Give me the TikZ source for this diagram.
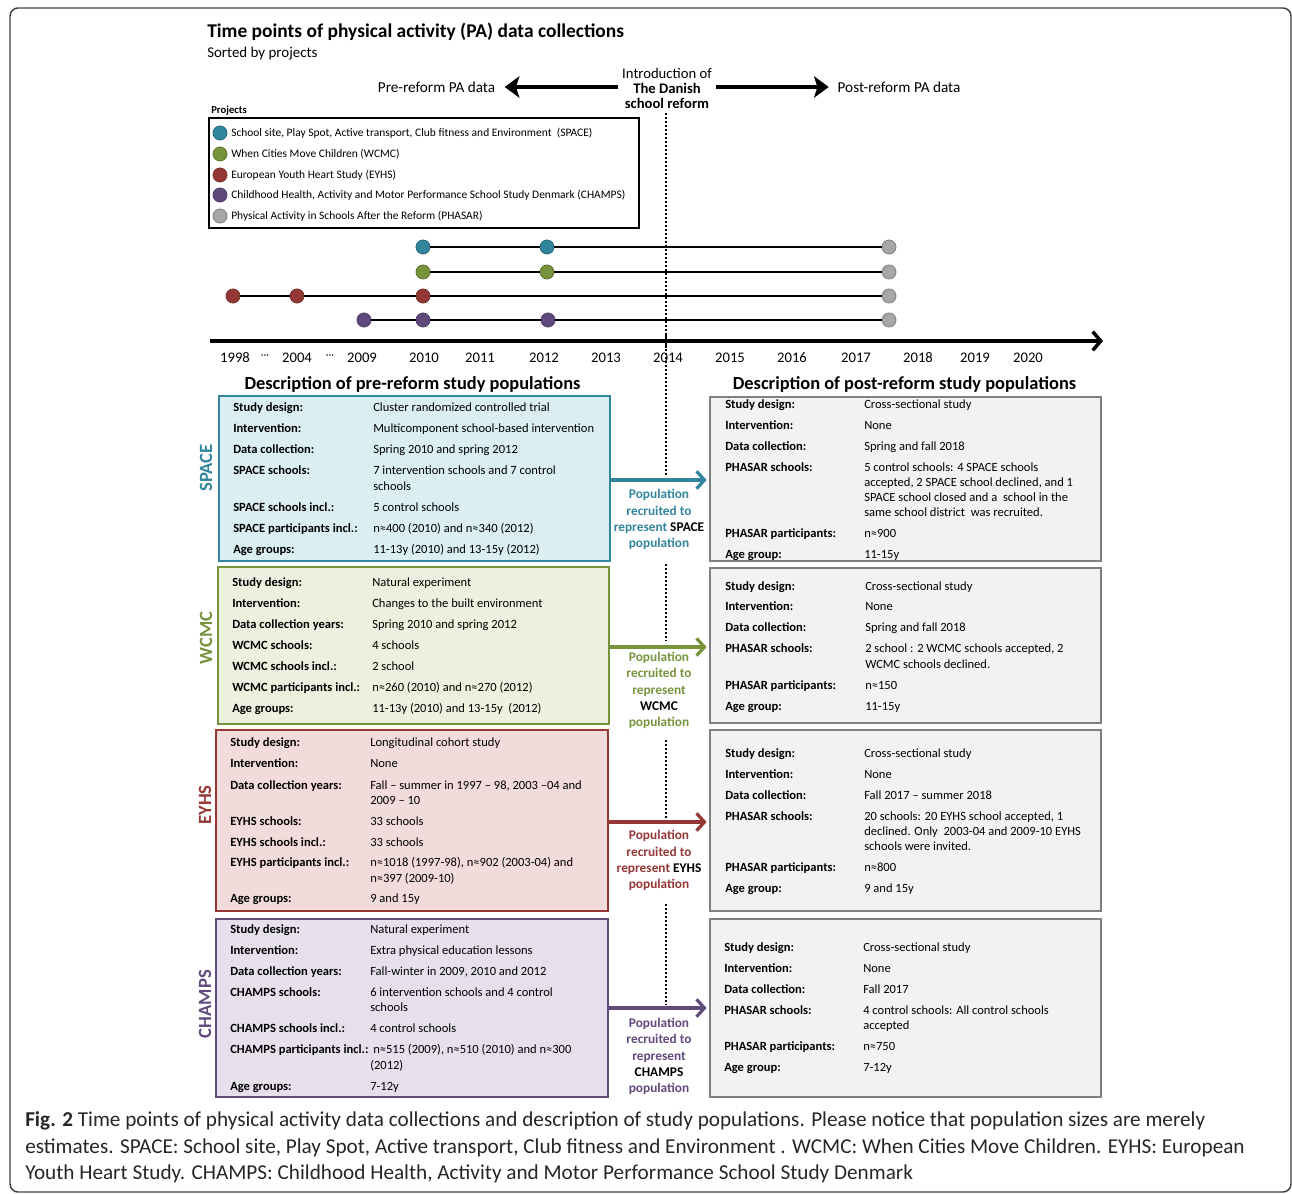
\documentclass[tikz,border=0pt]{standalone}
\usepackage{fontspec}
\setmainfont{Carlito}
\usetikzlibrary{arrows.meta,fit,calc}
\definecolor{cteal}{HTML}{31859C}
\definecolor{cteald}{HTML}{25677A}
\definecolor{ctealf}{HTML}{DAEEF3}
\definecolor{cgreen}{HTML}{77933C}
\definecolor{cgreend}{HTML}{5E7530}
\definecolor{cgreenf}{HTML}{EBF1DE}
\definecolor{cred}{HTML}{953735}
\definecolor{credd}{HTML}{772B2A}
\definecolor{credf}{HTML}{F2DCDB}
\definecolor{cpur}{HTML}{604A7B}
\definecolor{cpurd}{HTML}{4A3960}
\definecolor{cpurf}{HTML}{E5E0EC}
\definecolor{cgrey}{HTML}{A6A6A6}
\definecolor{cgreyd}{HTML}{808080}
\definecolor{cgreyf}{HTML}{F2F2F2}
\newcommand\ent[6]{%
  \node[lab] (#1l) at (#2,#4) {#5};
  \node[val] (#1v) at (#3,#4) {#6};}
\newcommand\cnt[4]{\node[val] (#1) at (#2,#3) {#4};}
\begin{document}
\begin{tikzpicture}[x=0.75pt,y=-0.75pt,
  lab/.style={inner sep=0pt, anchor=mid west, font=\fontsize{9.4}{11}\selectfont\bfseries},
  val/.style={inner sep=0pt, anchor=mid west, font=\fontsize{9.4}{11}\selectfont},
  dot/.style={circle, inner sep=0pt, minimum size=10.5pt, line width=0.6pt},
  tl/.style={line width=0.8pt},
  leg/.style={inner sep=0pt, anchor=mid west, font=\fontsize{8.6}{10}\selectfont},
  yr/.style={inner sep=0pt, font=\fontsize{11}{12}\selectfont},
  hdr/.style={inner sep=0pt, font=\fontsize{13.8}{15}\selectfont\bfseries},
  boxl/.style={inner sep=0pt, line width=1.9pt},
  boxr/.style={inner sep=0pt, line width=2pt, draw=cgreyd, fill=cgreyf},
  vlab/.style={rotate=90, inner sep=0pt, font=\fontsize{14}{14}\selectfont\bfseries},
  pop/.style={align=center, inner sep=0pt, font=\fontsize{10}{12.2}\selectfont\bfseries},
  midarr/.style={line width=2.4pt, shorten >=1.5pt, -{Straight Barb[length=6pt,width=13pt]}},
  bigarr/.style={line width=3.2pt, -{Stealth[length=11pt,width=16pt,inset=2.5pt]}},
  dotl/.style={line width=1.6pt, dash pattern=on 1.6pt off 1.4pt},
  captxt/.style={inner sep=0pt, anchor=mid west, text=black!85, font=\fontsize{15.9}{17}\selectfont}]
\useasboundingbox (0,0) rectangle (1292,1194);
% frame
\draw[line width=1.1pt, black!75, rounded corners=6pt] (10,8) rectangle (1291,1192);

% titles
\node[inner sep=0pt, anchor=mid west, font=\fontsize{14.6}{16}\selectfont\bfseries] (title) at (207,34.5) {Time points of physical activity (PA) data collections};
\node[inner sep=0pt, anchor=mid west, font=\fontsize{11.2}{13}\selectfont] (subt) at (207,54.5) {Sorted by projects};

% reform arrows
\node[inner ysep=4pt, inner xsep=7pt, font=\fontsize{11.4}{13}\selectfont] (pre) at (436.5,87) {Pre-reform PA data};
\node[inner sep=3pt, align=center, font=\fontsize{11}{11.25}\selectfont] (intro) at (667,88) {Introduction of\\\textbf{The Danish}\\\textbf{school reform}};
\node[inner ysep=4pt, inner xsep=6.5pt, font=\fontsize{11.4}{13}\selectfont] (post) at (899,87) {Post-reform PA data};
\draw[bigarr] (intro.west |- pre.center) -- (pre.east);
\draw[bigarr] (intro.east |- post.center) -- (post.west);

% dotted reform line
\coordinate (d0) at (666,113); \coordinate (d1) at (666,476);
\coordinate (d2) at (666,564); \coordinate (d3) at (666,641);
\coordinate (d4) at (666,740); \coordinate (d5) at (666,819);
\coordinate (d6) at (666,904); \coordinate (d7) at (666,1005);
\draw[dotl] (d0) -- (d1);
\draw[dotl] (d2) -- (d3);
\draw[dotl] (d4) -- (d5);
\draw[dotl] (d6) -- (d7);

% legend
\node[inner sep=0pt, anchor=mid west, font=\fontsize{8}{9}\selectfont\bfseries] (projects) at (211,110) {Projects};
\node[fit={(209,118) (639,228)}, inner sep=0pt, draw, line width=1.2pt] (legend) {};
\foreach \yy/\cf/\cd/\tx [count=\k] in {
  133/cteal/cteald/{School site, Play Spot, Active transport, Club fitness and Environment\ \ (SPACE)},
  154/cgreen/cgreend/{When Cities Move Children (WCMC)},
  175/cred/credd/{European Youth Heart Study (EYHS)},
  195/cpur/cpurd/{Childhood Health, Activity and Motor Performance School Study Denmark (CHAMPS)},
  216/cgrey/cgreyd/{Physical Activity in Schools After the Reform (PHASAR)}}{
  \node[dot, fill=\cf, draw=\cd] (ld\k) at (220,\yy) {};
  \node[leg] (lt\k) at (231,\yy) {\tx};
}

% timeline dots
\node[dot, fill=cteal, draw=cteald] (s1) at (423,247) {};
\node[dot, fill=cteal, draw=cteald] (s2) at (547,247) {};
\node[dot, fill=cgrey, draw=cgreyd] (s3) at (889,247) {};
\draw[tl] (s1) -- (s2) -- (s3);
\node[dot, fill=cgreen, draw=cgreend] (w1) at (423,272) {};
\node[dot, fill=cgreen, draw=cgreend] (w2) at (547,272) {};
\node[dot, fill=cgrey, draw=cgreyd] (w3) at (889,272) {};
\draw[tl] (w1) -- (w2) -- (w3);
\node[dot, fill=cred, draw=credd] (e1) at (233,296) {};
\node[dot, fill=cred, draw=credd] (e2) at (297,296) {};
\node[dot, fill=cred, draw=credd] (e3) at (423,296) {};
\node[dot, fill=cgrey, draw=cgreyd] (e4) at (889,296) {};
\draw[tl] (e1) -- (e2) -- (e3) -- (e4);
\node[dot, fill=cpur, draw=cpurd] (c1) at (364,320) {};
\node[dot, fill=cpur, draw=cpurd] (c2) at (423,320) {};
\node[dot, fill=cpur, draw=cpurd] (c3) at (548,320) {};
\node[dot, fill=cgrey, draw=cgreyd] (c4) at (889,320) {};
\draw[tl] (c1) -- (c2) -- (c3) -- (c4);

% axis
\coordinate (ax0) at (210,341); \coordinate (ax1) at (1103,341);
\draw[line width=2.6pt, -{Straight Barb[length=6pt,width=14pt]}] (ax0) -- (ax1);
\coordinate (tk0) at (666,334); \coordinate (tk1) at (666,348);
\draw[line width=2pt] (tk0) -- (tk1);
\foreach \xx/\yt [count=\k] in {235/1998,297/2004,362/2009,424/2010,480/2011,544/2012,606/2013,668/2014,730/2015,792/2016,856/2017,918/2018,975/2019,1028/2020}{
  \node[yr] (y\k) at (\xx,357.5) {\yt};
}
\node[yr, font=\fontsize{8}{9}\selectfont] (dots1) at (265,356.5) {···};
\node[yr, font=\fontsize{8}{9}\selectfont] (dots2) at (330,356.5) {···};

% headers
\node[hdr] (hpre) at (412.5,384.5) {Description of pre-reform study populations};
\node[hdr] (hpost) at (904.5,384.5) {Description of post-reform study populations};

% boxes
\node[fit={(219,396) (610,561)}, boxl, draw=cteal, fill=ctealf] (bs) {};
\node[fit={(218,567) (609,724)}, boxl, draw=cgreen, fill=cgreenf] (bw) {};
\node[fit={(216,730) (608,911)}, boxl, draw=cred, fill=credf] (be) {};
\node[fit={(216,919) (608,1097)}, boxl, draw=cpur, fill=cpurf] (bc) {};
\node[fit={(710,397) (1101,561)}, boxr] (rs) {};
\node[fit={(710,568) (1101,723)}, boxr] (rw) {};
\node[fit={(710,730) (1101,911)}, boxr] (re) {};
\node[fit={(710,919) (1101,1097)}, boxr] (rc) {};

% vertical labels
\node[vlab, text=cteal] (vs) at (206,468) {SPACE};
\node[vlab, text=cgreen] (vw) at (206,638) {WCMC};
\node[vlab, text=cred] (ve) at (205,805) {EYHS};
\node[vlab, text=cpur] (vc) at (205,1004) {CHAMPS};

% connectors
\coordinate (ys) at (0,480); \coordinate (yw) at (0,647);
\coordinate (ye) at (0,822); \coordinate (yc) at (0,1008);
\draw[midarr, cteal] (bs.east |- ys) -- (rs.west |- ys);
\draw[midarr, cgreen] (bw.east |- yw) -- (rw.west |- yw);
\draw[midarr, cred] (be.east |- ye) -- (re.west |- ye);
\draw[midarr, cpur] (bc.east |- yc) -- (rc.west |- yc);
\node[pop, text=cteal] (ps) at (659,519.5) {Population\\recruited to\\represent \textcolor{black}{SPACE}\\population};
\node[pop, text=cgreen] (pw) at (659,690.5) {Population\\recruited to\\represent\\\textcolor{black}{WCMC}\\population};
\node[pop, text=cred] (pe) at (659,860.5) {Population\\recruited to\\represent \textcolor{black}{EYHS}\\population};
\node[pop, text=cpur] (pc) at (659,1056.5) {Population\\recruited to\\represent\\\textcolor{black}{CHAMPS}\\population};

% SPACE left
\ent{sa1}{233}{373}{408}{Study design:}{Cluster randomized controlled trial}
\ent{sa2}{233}{373}{429}{Intervention:}{Multicomponent school-based intervention}
\ent{sa3}{233}{373}{450}{Data collection:}{Spring 2010 and spring 2012}
\ent{sa4}{233}{373}{471}{SPACE schools:}{7 intervention schools and 7 control}
\cnt{sa4b}{373}{487}{schools}
\ent{sa5}{233}{373}{508}{SPACE schools incl.:}{5 control schools}
\ent{sa6}{233}{373}{529}{SPACE participants incl.:}{n≈400 (2010) and n≈340 (2012)}
\ent{sa7}{233}{373}{550}{Age groups:}{11-13y (2010) and 13-15y (2012)}

% WCMC left
\ent{wa1}{232}{372}{583}{Study design:}{Natural experiment}
\ent{wa2}{232}{372}{604}{Intervention:}{Changes to the built environment}
\ent{wa3}{232}{372}{625}{Data collection years:}{Spring 2010 and spring 2012}
\ent{wa4}{232}{372}{646}{WCMC schools:}{4 schools}
\ent{wa5}{232}{372}{667}{WCMC schools incl.:}{2 school}
\ent{wa6}{232}{372}{688}{WCMC participants incl.:}{n≈260 (2010) and n≈270 (2012)}
\ent{wa7}{232}{372}{709}{Age groups:}{11-13y (2010) and 13-15y\ \ (2012)}

% EYHS left
\ent{ea1}{230}{370}{743}{Study design:}{Longitudinal cohort study}
\ent{ea2}{230}{370}{764}{Intervention:}{None}
\ent{ea3}{230}{370}{786}{Data collection years:}{Fall – summer in 1997 – 98, 2003 –04 and}
\cnt{ea3b}{370}{801}{2009 – 10}
\ent{ea4}{230}{370}{822}{EYHS schools:}{33 schools}
\ent{ea5}{230}{370}{843}{EYHS schools incl.:}{33 schools}
\ent{ea6}{230}{370}{863}{EYHS participants incl.:}{n≈1018 (1997-98), n≈902 (2003-04) and}
\cnt{ea6b}{370}{879}{n≈397 (2009-10)}
\ent{ea7}{230}{370}{899}{Age groups:}{9 and 15y}

% CHAMPS left
\ent{ca1}{230}{370}{930}{Study design:}{Natural experiment}
\ent{ca2}{230}{370}{951}{Intervention:}{Extra physical education lessons}
\ent{ca3}{230}{370}{972}{Data collection years:}{Fall-winter in 2009, 2010 and 2012}
\ent{ca4}{230}{370}{993}{CHAMPS schools:}{6 intervention schools and 4 control}
\cnt{ca4b}{370}{1008}{schools}
\ent{ca5}{230}{370}{1029}{CHAMPS schools incl.:}{4 control schools}
\ent{ca6}{230}{373}{1050}{CHAMPS participants incl.:}{n≈515 (2009), n≈510 (2010) and n≈300}
\cnt{ca6b}{370}{1066}{(2012)}
\ent{ca7}{230}{370}{1087}{Age groups:}{7-12y}

% right 1
\ent{ra1}{725}{864}{405}{Study design:}{Cross-sectional study}
\ent{ra2}{725}{864}{426}{Intervention:}{None}
\ent{ra3}{725}{864}{447}{Data collection:}{Spring and fall 2018}
\ent{ra4}{725}{864}{468}{PHASAR schools:}{5 control schools: 4 SPACE schools}
\cnt{ra4b}{864}{483}{accepted, 2 SPACE school declined, and 1}
\cnt{ra4c}{864}{498}{SPACE school closed and a\ \ school in the}
\cnt{ra4d}{864}{513}{same school district\ \ was recruited.}
\ent{ra5}{725}{864}{534}{PHASAR participants:}{n≈900}
\ent{ra6}{725}{864}{555}{Age group:}{11-15y}

% right 2
\ent{rb1}{725}{865}{587}{Study design:}{Cross-sectional study}
\ent{rb2}{725}{865}{607}{Intervention:}{None}
\ent{rb3}{725}{865}{628}{Data collection:}{Spring and fall 2018}
\ent{rb4}{725}{865}{649}{PHASAR schools:}{2 school : 2 WCMC schools accepted, 2}
\cnt{rb4b}{865}{665}{WCMC schools declined.}
\ent{rb5}{725}{865}{686}{PHASAR participants:}{n≈150}
\ent{rb6}{725}{865}{707}{Age group:}{11-15y}

% right 3
\ent{rc1}{725}{864}{754}{Study design:}{Cross-sectional study}
\ent{rc2}{725}{864}{775}{Intervention:}{None}
\ent{rc3}{725}{864}{796}{Data collection:}{Fall 2017 – summer 2018}
\ent{rc4}{725}{864}{817}{PHASAR schools:}{20 schools: 20 EYHS school accepted, 1}
\cnt{rc4b}{864}{832}{declined. Only\ \ 2003-04 and 2009-10 EYHS}
\cnt{rc4c}{864}{847}{schools were invited.}
\ent{rc5}{725}{864}{868}{PHASAR participants:}{n≈800}
\ent{rc6}{725}{864}{889}{Age group:}{9 and 15y}

% right 4
\ent{rd1}{724}{863}{948}{Study design:}{Cross-sectional study}
\ent{rd2}{724}{863}{969}{Intervention:}{None}
\ent{rd3}{724}{863}{990}{Data collection:}{Fall 2017}
\ent{rd4}{724}{863}{1011}{PHASAR schools:}{4 control schools: All control schools}
\cnt{rd4b}{863}{1026}{accepted}
\ent{rd5}{724}{863}{1047}{PHASAR participants:}{n≈750}
\ent{rd6}{724}{863}{1068}{Age group:}{7-12y}

% caption
\node[captxt] (cap1) at (25,1123) {\textbf{Fig. 2} Time points of physical activity data collections and description of study populations. Please notice that population sizes are merely};
\node[captxt] (cap2) at (25,1150) {estimates. SPACE: School site, Play Spot, Active transport, Club fitness and Environment . WCMC: When Cities Move Children. EYHS: European};
\node[captxt] (cap3) at (25,1176) {Youth Heart Study. CHAMPS: Childhood Health, Activity and Motor Performance School Study Denmark};
\end{tikzpicture}
\end{document}
